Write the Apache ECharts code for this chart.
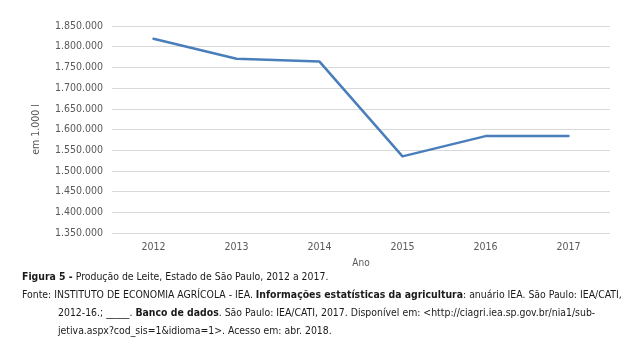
<!DOCTYPE html>
<html><head><meta charset="utf-8">
<script src="https://cdn.jsdelivr.net/npm/echarts@6/dist/echarts.min.js"></script>
<style>html,body{margin:0;padding:0;background:#fff}#c{width:628px;height:356px}</style>
</head><body><div id="c"></div>
<script>
const categories = ['2012','2013','2014','2015','2016','2017'];
const producao = [1819000, 1771000, 1764000, 1535000, 1584000, 1584000];
const yMin = 1350000, yMax = 1850000, yStep = 50000;

function fmt(v){ return String(v).replace(/\B(?=(\d{3})+(?!\d))/g,'.'); }

const chart = echarts.init(document.getElementById('c'), null, {renderer:'canvas'});
const F = '"DejaVu Sans Condensed", "DejaVu Sans", sans-serif';
const CS = 10.4;
const bold = {b:{fontWeight:'bold',fontFamily:F,fontSize:CS,fill:'#1a1a1a'}};
chart.setOption({
  animation:false,
  textStyle:{fontFamily:F},
  grid:{left:112,right:18,top:26,bottom:123},
  xAxis:{type:'category',data:categories,boundaryGap:true,
    name:'Ano',nameLocation:'middle',nameGap:25,
    nameTextStyle:{color:'#595959',fontSize:10,fontFamily:F},
    axisLine:{show:false},axisTick:{show:false},
    axisLabel:{color:'#595959',fontSize:10.5,margin:9,fontFamily:F}},
  yAxis:{type:'value',min:yMin,max:yMax,interval:yStep,
    name:'em 1.000 l',nameLocation:'middle',nameGap:70,nameRotate:90,
    nameTextStyle:{color:'#595959',fontSize:10.5,fontFamily:F},
    axisLine:{show:false},axisTick:{show:false},
    splitLine:{lineStyle:{color:'#d9d9d9',width:1}},
    axisLabel:{color:'#595959',fontSize:10.5,margin:9,fontFamily:F,formatter:fmt}},
  series:[{type:'line',data:producao,symbol:'none',
    lineStyle:{color:'#4a7ebb',width:2.5,cap:'round',join:'round'}}],
  graphic:[
    {type:'text',left:22,top:272,style:{
      text:'{b|Figura 5 -} Produção de Leite, Estado de São Paulo, 2012 a 2017.',
      rich:bold,fontFamily:F,fontSize:CS,fill:'#1a1a1a'}},
    {type:'text',left:22,top:290,style:{
      text:'Fonte: INSTITUTO DE ECONOMIA AGRÍCOLA - IEA. {b|Informações estatísticas da agricultura}: anuário IEA. São Paulo: IEA/CATI,',
      rich:bold,fontFamily:F,fontSize:CS,fill:'#1a1a1a'}},
    {type:'text',left:58,top:308,style:{
      text:'2012-16.; _____. {b|Banco de dados}. São Paulo: IEA/CATI, 2017. Disponível em: <http://ciagri.iea.sp.gov.br/nia1/sub-',
      rich:bold,fontFamily:F,fontSize:CS,fill:'#1a1a1a'}},
    {type:'text',left:58,top:326,style:{
      text:'jetiva.aspx?cod_sis=1&idioma=1>. Acesso em: abr. 2018.',
      fontFamily:F,fontSize:CS,fill:'#1a1a1a'}}
  ]
});
</script></body></html>
